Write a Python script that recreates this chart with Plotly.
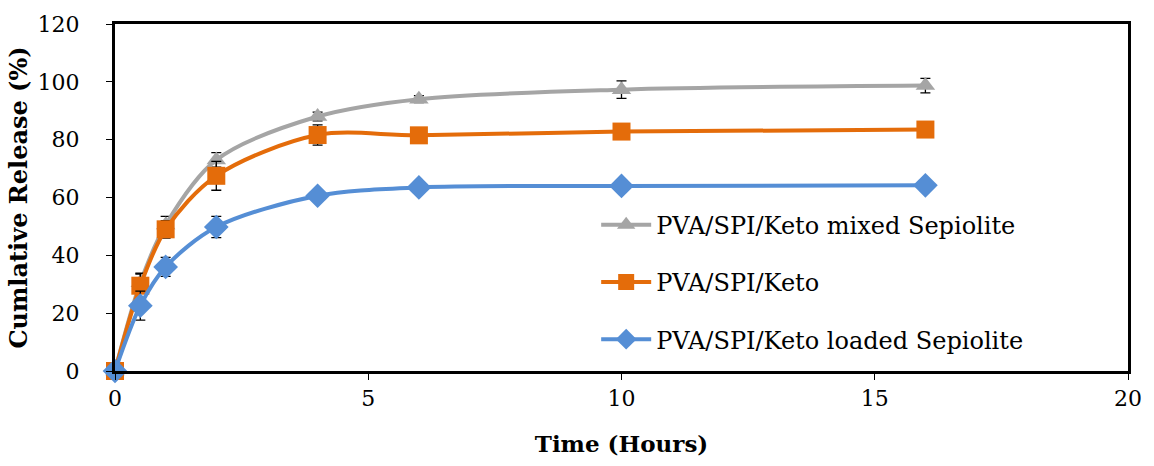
import plotly.graph_objects as go

# Sampling times (hours)
time_h = [0, 0.5, 1, 2, 4, 6, 10, 16]

# Cumulative release (%) and standard deviations for each formulation
mixed_sep = [0, 30.5, 50.5, 73, 88, 94, 97.3, 98.7]
mixed_sep_err = [0, 3, 3, 2.5, 1.5, 1.2, 3, 2.5]

keto = [0, 29.5, 49, 67.5, 81.6, 81.5, 82.8, 83.5]
keto_err = [0, 4.3, 3, 5, 3.5, 1, 1, 1]

loaded_sep = [0, 22.6, 36, 49.8, 60.6, 63.5, 64, 64.2]
loaded_sep_err = [0, 5, 3.3, 3.7, 1.5, 1, 0.8, 0.8]

series = [
    ("PVA/SPI/Keto mixed Sepiolite", mixed_sep, mixed_sep_err, "#A5A5A5", "triangle-up", 17),
    ("PVA/SPI/Keto", keto, keto_err, "#E46C0A", "square", 18),
    ("PVA/SPI/Keto loaded Sepiolite", loaded_sep, loaded_sep_err, "#558ED5", "diamond", 19),
]

fig = go.Figure()
for i, (name, vals, errs, color, symbol, size) in enumerate(series):
    fig.add_trace(go.Scatter(
        x=time_h, y=vals, name=name, mode="lines+markers",
        legendgroup=f"g{i}", cliponaxis=False,
        line=dict(color=color, width=4, shape="spline", smoothing=0.9),
        marker=dict(symbol=symbol, size=size, color=color),
        error_y=dict(type="data", array=errs, visible=True,
                     color="black", thickness=1.3, width=5),
    ))

serif = "DejaVu Serif"
fig.update_layout(
    width=1154, height=466,
    margin=dict(l=115, r=21, t=21, b=95),
    paper_bgcolor="white", plot_bgcolor="white",
    font=dict(family=serif, size=22, color="black"),
    showlegend=True,
    legend=dict(x=0.475, y=0.485, xanchor="left", yanchor="top",
                font=dict(family=serif, size=24, color="black"),
                bgcolor="rgba(0,0,0,0)", tracegroupgap=23,
                itemwidth=50),
    xaxis=dict(range=[0, 20], tickvals=[0, 5, 10, 15, 20],
               showgrid=False, zeroline=False,
               showline=True, linecolor="black", linewidth=3, mirror=True,
               ticks="outside", ticklen=6, tickcolor="black", tickwidth=1,
               tickfont=dict(family=serif, size=22),
               title=dict(text="<b>Time (Hours)</b>", font=dict(family=serif, size=23), standoff=26)),
    yaxis=dict(range=[0, 120], tickvals=[0, 20, 40, 60, 80, 100, 120],
               showgrid=False, zeroline=False,
               showline=True, linecolor="black", linewidth=3, mirror=True,
               ticks="outside", ticklen=6, tickcolor="black", tickwidth=1,
               ticklabelstandoff=22,
               tickfont=dict(family=serif, size=22),
               title=dict(text="<b>Cumlative Release (%)</b>", font=dict(family=serif, size=24), standoff=4)),
)

fig.write_html("out.html")
